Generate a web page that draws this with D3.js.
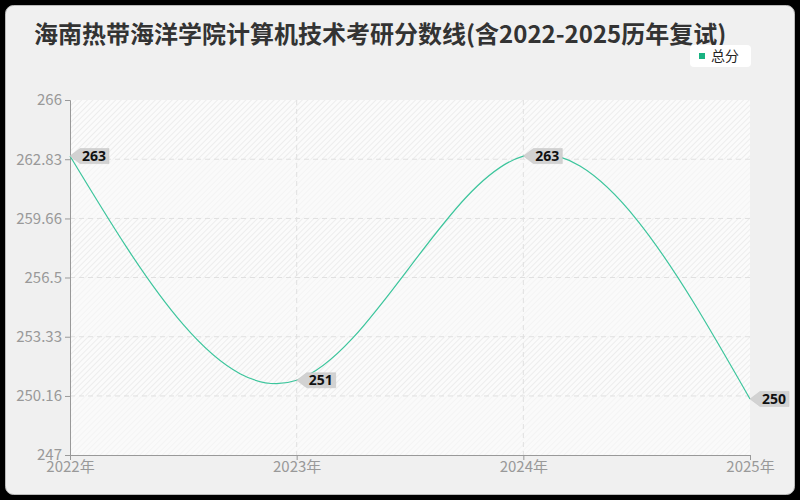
<!DOCTYPE html>
<html>
<head>
<meta charset="utf-8">
<script src="https://cdn.jsdelivr.net/npm/d3@7"></script>
<style>
  body { margin: 0; background: #000; }
  svg { display: block; font-family: "Noto Sans CJK SC", "Noto Sans", sans-serif; }
</style>
</head>
<body>
<svg id="chart" width="800" height="500"></svg>
<script>
// data
var years = ["2022年", "2023年", "2024年", "2025年"];
var scores = [263, 251, 263, 250];
var yTicks = [247, 250.16, 253.33, 256.5, 259.66, 262.83, 266];
var seriesName = "总分";
var title = "海南热带海洋学院计算机技术考研分数线(含2022-2025历年复试)";

var W = 800, H = 500;
var pLeft = 70, pRight = 750, pTop = 100, pBottom = 455;

var svg = d3.select("#chart");
var defs = svg.append("defs");

// hatched backgrounds, strong and faint
function hatch(id, bg, fg) {
  var p = defs.append("pattern").attr("id", id)
    .attr("patternUnits", "userSpaceOnUse")
    .attr("width", 4).attr("height", 4)
    .attr("patternTransform", "rotate(45)");
  p.append("rect").attr("width", 4).attr("height", 4).attr("fill", bg);
  p.append("line").attr("x1", 0).attr("y1", 0).attr("x2", 0).attr("y2", 4)
    .attr("stroke", fg).attr("stroke-width", 1.2);
}
hatch("hA", "#fbfbfb", "#e4e4e4");
hatch("hB", "#fafafa", "#f0f0f0");

// card
svg.append("rect").attr("x", 5.5).attr("y", 5.5).attr("width", 789).attr("height", 489)
  .attr("rx", 8).attr("fill", "#f0f0f0").attr("stroke", "#bbb").attr("stroke-width", 1);

svg.append("text").attr("x", 34).attr("y", 43)
  .attr("font-size", 24).attr("font-weight", "bold").attr("fill", "#333")
  .text(title);

// legend
var lg = svg.append("g");
lg.append("rect").attr("x", 690).attr("y", 45).attr("width", 61).attr("height", 22)
  .attr("rx", 4).attr("fill", "#fff");
lg.append("rect").attr("x", 699).attr("y", 53).attr("width", 6).attr("height", 6).attr("fill", "#19b382");
lg.append("text").attr("x", 711).attr("y", 61).attr("font-size", 14).attr("fill", "#222").text(seriesName);

var x = d3.scalePoint().domain(years).range([pLeft, pRight]);
var y = d3.scaleLinear().domain([yTicks[0], yTicks[yTicks.length - 1]]).range([pBottom, pTop]);

// split-area bands
var bands = d3.pairs(yTicks);
svg.append("g").selectAll("rect").data(bands).enter().append("rect")
  .attr("x", pLeft).attr("width", pRight - pLeft)
  .attr("y", function(d) { return y(d[1]); })
  .attr("height", function(d) { return y(d[0]) - y(d[1]); })
  .attr("fill", function(d, i) { return (bands.length - 1 - i) % 2 === 0 ? "url(#hA)" : "url(#hB)"; });

// grid
var grid = svg.append("g").attr("stroke", "#e0e0e0").attr("stroke-dasharray", "5,4");
grid.selectAll("line.h").data(yTicks.slice(1, -1)).enter().append("line")
  .attr("x1", pLeft).attr("x2", pRight)
  .attr("y1", function(d) { return y(d); }).attr("y2", function(d) { return y(d); });
grid.selectAll("line.v").data(years.slice(1, -1)).enter().append("line")
  .attr("y1", pTop).attr("y2", pBottom)
  .attr("x1", function(d) { return x(d); }).attr("x2", function(d) { return x(d); });

// axes
var yAxis = svg.append("g").attr("transform", "translate(" + pLeft + ",0)")
  .call(d3.axisLeft(y).tickValues(yTicks).tickSize(5).tickPadding(3)
    .tickFormat(function(d) { return String(d); }));
var xAxis = svg.append("g").attr("transform", "translate(0," + pBottom + ")")
  .call(d3.axisBottom(x).tickSize(5).tickPadding(1));
[yAxis, xAxis].forEach(function(a) {
  a.select(".domain").attr("stroke", "#999");
  a.selectAll(".tick line").attr("stroke", "#999");
  a.selectAll(".tick text").attr("fill", "#999").attr("font-size", 15)
    .attr("font-family", "'Noto Sans CJK SC', 'Noto Sans', sans-serif");
});

// line
var pts = scores.map(function(v, i) { return [x(years[i]), y(v)]; });
svg.append("path").datum(pts)
  .attr("d", d3.line().curve(d3.curveNatural))
  .attr("fill", "none").attr("stroke", "#3cc59c").attr("stroke-width", 1.2);

// value tags
var tags = svg.append("g").selectAll("g").data(pts).enter().append("g")
  .attr("transform", function(d) { return "translate(" + d[0] + "," + d[1] + ")"; });
tags.append("path")
  .attr("d", "M0,0 L10,-7.5 L39,-7.5 L39,7.5 L10,7.5 Z")
  .attr("fill", "#d2d2d2").attr("stroke", "#c4c4c4").attr("stroke-width", 0.5);
tags.append("text").attr("x", 12).attr("y", 5)
  .attr("font-size", 14).attr("font-weight", "bold").attr("fill", "#111")
  .attr("font-family", "'Noto Sans', sans-serif")
  .text(function(d, i) { return scores[i]; });
</script>
</body>
</html>
